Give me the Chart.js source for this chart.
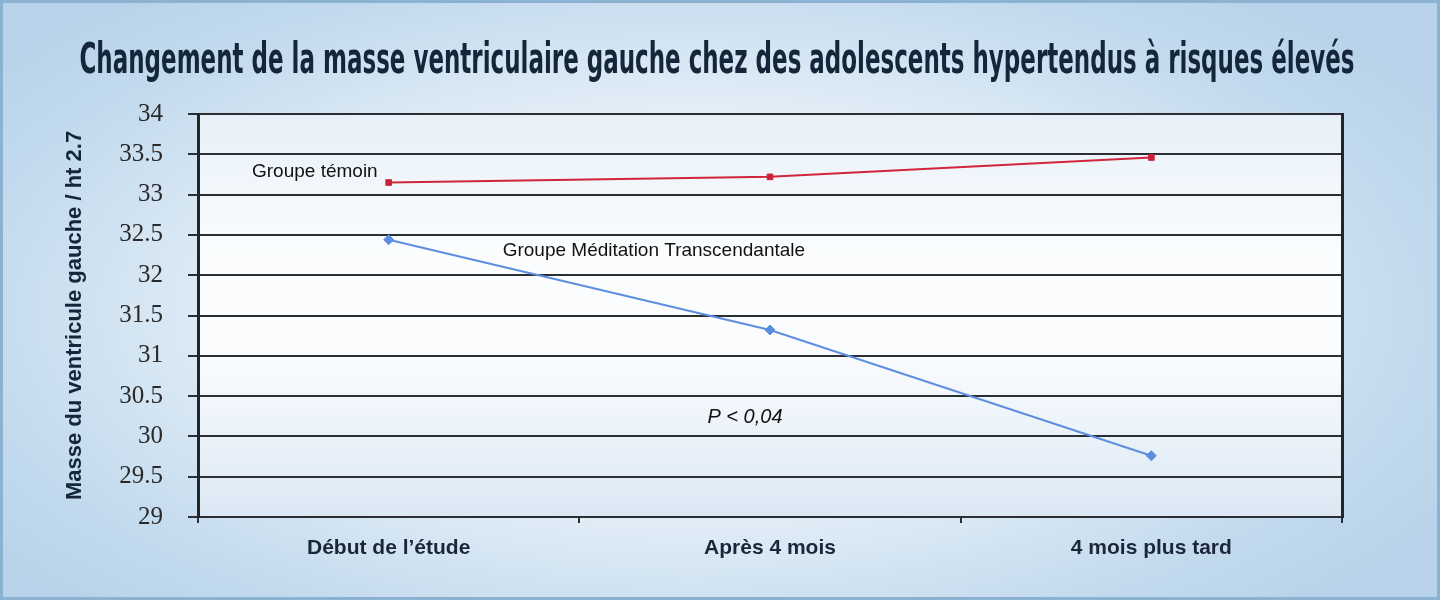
<!DOCTYPE html>
<html>
<head>
<meta charset="utf-8">
<script src="https://cdn.jsdelivr.net/npm/chart.js@4.4.1/dist/chart.umd.min.js"></script>
<style>
    html, body { margin: 0; padding: 0; }
    #frame {
        width: 1440px;
        height: 600px;
        box-sizing: border-box;
        border: 3px solid #8cb2d2;
        background: radial-gradient(ellipse 62% 70% at 48% 52%, #f8fbfd 0%, #e6f0f8 45%, #c4dbee 80%, #b7d2e9 100%);
        position: relative;
    }
    #chart { position: absolute; left: -3px; top: -3px; }
</style>
</head>
<body>
<div id="frame">
    <canvas id="chart" width="1440" height="600"></canvas>
</div>
<script>
// data
const categories = ["Début de l\u2019étude", "Après 4 mois", "4 mois plus tard"];
const temoinValues = [33.15, 33.22, 33.46];
const meditationValues = [32.44, 31.32, 29.76];
const yTicks = [29, 29.5, 30, 30.5, 31, 31.5, 32, 32.5, 33, 33.5, 34];

const titleText = "Changement de la masse ventriculaire gauche chez des adolescents hypertendus à risques élevés";
const yTitle = "Masse du ventricule gauche / ht 2.7";
const temoinLabel = "Groupe témoin";
const meditationLabel = "Groupe Méditation Transcendantale";
const pLabel = "P < 0,04";

const DARK = "#2b2f33";
const NAVY = "#15263a";

// plot area background
const plotBackground = {
    id: "plotBackground",
    beforeDraw(chart) {
        const { ctx, chartArea: a } = chart;
        const g = ctx.createLinearGradient(0, a.top, 0, a.bottom);
        g.addColorStop(0, "#e7f0f8");
        g.addColorStop(0.35, "#fbfdfe");
        g.addColorStop(0.6, "#fafcfe");
        g.addColorStop(1, "#dbe8f4");
        ctx.save();
        ctx.fillStyle = g;
        ctx.fillRect(a.left, a.top, a.right - a.left, a.bottom - a.top);
        ctx.restore();
    }
};

// condensed title + in-plot labels
const textLayer = {
    id: "textLayer",
    afterDraw(chart) {
        const ctx = chart.ctx;
        const x = chart.scales.x;
        ctx.save();
        ctx.fillStyle = NAVY;
        ctx.font = "bold 42px 'Liberation Sans Narrow', 'DejaVu Sans Condensed', sans-serif";
        ctx.textAlign = "center";
        ctx.textBaseline = "middle";
        ctx.fillText(titleText, 717, 62, 1275);

        ctx.fillStyle = "#111111";
        ctx.font = "19px 'Liberation Sans', Arial, sans-serif";
        ctx.textAlign = "right";
        ctx.fillText(temoinLabel, x.getPixelForValue(0) - 11, 172);
        ctx.textAlign = "left";
        ctx.fillText(meditationLabel, x.getPixelForValue(0) + 114, 251);
        ctx.textAlign = "center";
        ctx.font = "italic 20px 'Liberation Sans', Arial, sans-serif";
        ctx.fillText(pLabel, x.getPixelForValue(1) - 25, 417);
        ctx.restore();
    }
};

new Chart(document.getElementById("chart"), {
    type: "line",
    data: {
        labels: categories,
        datasets: [{
            label: temoinLabel,
            data: temoinValues,
            borderColor: "#d1253c",
            backgroundColor: "#c8203a",
            borderWidth: 2,
            pointStyle: "rect",
            pointRadius: 4,
            pointBorderWidth: 1,
            tension: 0
        }, {
            label: meditationLabel,
            data: meditationValues,
            borderColor: "#5d8fe0",
            backgroundColor: "#5b8de0",
            borderWidth: 2,
            pointStyle: "rectRot",
            pointRadius: 5,
            pointBorderWidth: 1,
            tension: 0
        }]
    },
    options: {
        responsive: false,
        animation: false,
        layout: { padding: { left: 60, right: 0, top: 114, bottom: 0 } },
        plugins: {
            legend: { display: false },
            tooltip: { enabled: false },
            title: { display: false }
        },
        scales: {
            x: {
                type: "category",
                offset: true,
                afterFit: (s) => { s.height = 83; },
                grid: {
                    display: true,
                    offset: true,
                    drawOnChartArea: false,
                    tickLength: 6,
                    color: DARK,
                    lineWidth: 2
                },
                border: { display: true, color: DARK, width: 2 },
                ticks: {
                    padding: 13,
                    color: "#1b2738",
                    font: { family: "'Liberation Sans', Arial, sans-serif", size: 21, weight: "bold" }
                }
            },
            y: {
                min: 29,
                max: 34,
                afterFit: (s) => { s.width = 138; },
                afterBuildTicks: (s) => { s.ticks = yTicks.map(v => ({ value: v })); },
                grid: {
                    color: DARK,
                    lineWidth: 2,
                    tickLength: 10
                },
                border: { display: true, color: "#222629", width: 3 },
                ticks: {
                    padding: 25,
                    color: "#2a2a2a",
                    callback: (v) => String(v),
                    font: { family: "'Liberation Serif', 'Times New Roman', serif", size: 25 }
                },
                title: {
                    display: true,
                    text: yTitle,
                    color: NAVY,
                    padding: { top: 2, bottom: 0 },
                    font: { family: "'Liberation Sans', Arial, sans-serif", size: 22, weight: "bold" }
                }
            },
            y1: {
                position: "right",
                min: 29,
                max: 34,
                afterFit: (s) => { s.width = 98; },
                grid: { drawOnChartArea: false, drawTicks: false },
                border: { display: true, color: "#222629", width: 3 },
                ticks: { display: false }
            }
        }
    },
    plugins: [plotBackground, textLayer]
});
</script>
</body>
</html>
